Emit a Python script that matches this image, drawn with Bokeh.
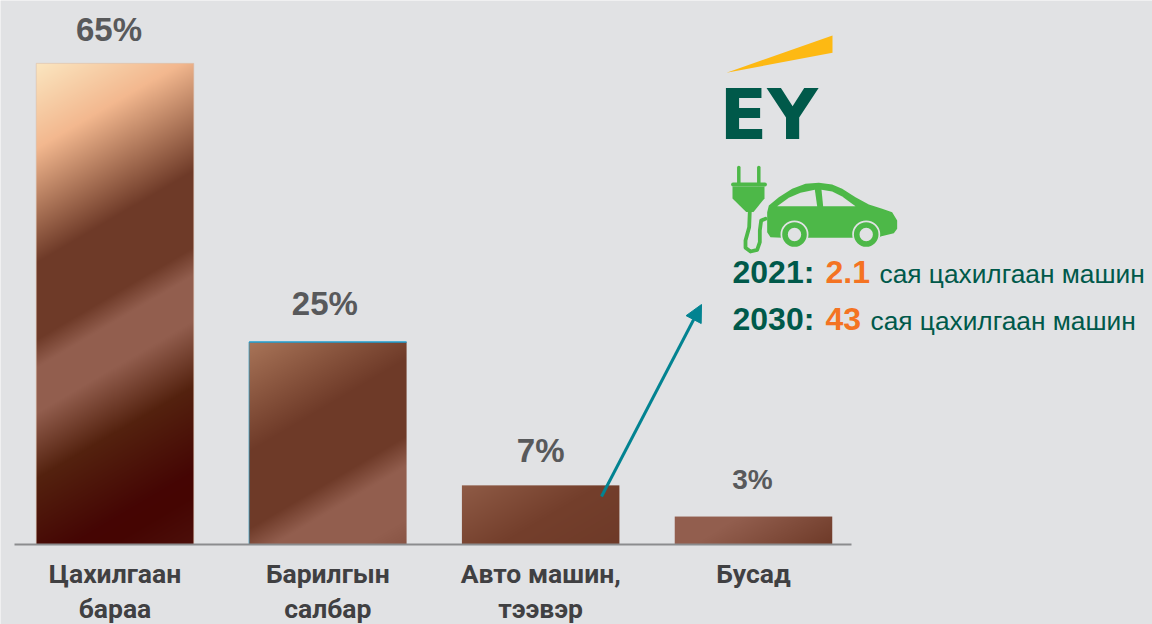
from bokeh.plotting import figure
from bokeh.embed import file_html
from bokeh.resources import INLINE
from bokeh.core.properties import value
from bokeh.models import Range1d, FixedTicker, Arrow, NormalHead
import numpy as np

# Data
categories = ["Цахилгаан\nбараа", "Барилгын\nсалбар", "Авто машин,\nтээвэр", "Бусад"]
shares_label = ["65%", "25%", "7%", "3%"]
# drawn bar heights (the first bar is drawn shorter than its label implies)
bar_heights = [59.4, 25.0, 7.3, 3.45]
bar_positions = [0, 1, 2, 3]
label_sizes = [33, 33, 33, 28]
label_offsets = [-6, -3, 0, -1]
label_lifts = [2.7, 3.2, 2.84, 3.3]

W, H = 1152, 624
BG = "#e1e2e4"
BASE = 544
PXU = 8.1
STEP = 212.83
X0 = 114.5
BL = 0.37  # em shift that puts the "alphabetic" anchor on the wanted baseline

def dx(px): return (px - X0) / STEP
def dy(py): return (BASE - py) / PXU
def pts(seq):
    return [dx(a) for a, b in seq], [dy(b) for a, b in seq]
def z7(seq):
    return [(725 + a / 3, 160 + b / 3) for a, b in seq]

p = figure(width=W, height=H, output_backend="svg", toolbar_location=None,
           x_range=Range1d(dx(0), dx(W)), y_range=Range1d(dy(H), dy(0)),
           min_border_left=0, min_border_right=0, min_border_top=0, min_border_bottom=0,
           background_fill_color=BG, border_fill_color=BG, outline_line_color=None)
p.grid.visible = False
p.yaxis.visible = False

ax = p.xaxis[0]
ax.fixed_location = 0
ax.ticker = FixedTicker(ticks=bar_positions)
ax.major_label_overrides = dict(zip(bar_positions, categories))
ax.bounds = (dx(14), dx(851))
ax.axis_line_color = "#8b8c8e"
ax.axis_line_width = 2
ax.major_tick_line_color = None
ax.minor_tick_line_color = None
ax.major_label_standoff = 7
ax.major_label_text_font = "Roboto"
ax.major_label_text_font_style = "bold"
ax.major_label_text_font_size = "26.5px"
ax.major_label_text_line_height = 1.15
ax.major_label_text_color = "#404042"

# copper gradients: distance along the diagonal (px), colour
ramps = [
    [(0, "#fbe6c0"), (85, "#f3b88f"), (200, "#6e3a28"), (275, "#6e3a28"), (303, "#925e4e"), (350, "#925e4e"),
     (415, "#54220f"), (500, "#450604"), (521, "#450502"), (574, "#4d100b")],
    [(0, "#a87458"), (110, "#6e3a28"), (185, "#6e3a28"), (215, "#925e4e"), (270, "#925e4e"), (296, "#885444")],
    [(0, "#8f5b46"), (80, "#743f2c"), (152, "#6e3a28")],
    [(0, "#925e4e"), (40, "#925e4e"), (121, "#6e3a28")],
]
SLOPE = 0.59

def grad(h_px, w_px, ramp):
    hh, ww = max(int(round(h_px)), 1), int(round(w_px))
    yy, xx = np.mgrid[0:hh, 0:ww]
    s = (hh - 1 - yy) + SLOPE * xx
    pos = [r[0] for r in ramp]
    cols = [tuple(int(r[1][i:i + 2], 16) for i in (1, 3, 5)) for r in ramp]
    out = np.zeros((hh, ww), dtype=np.uint32)
    view = out.view(dtype=np.uint8).reshape((hh, ww, 4))
    for c in range(3):
        view[..., c] = np.interp(s, pos, [k[c] for k in cols]).astype(np.uint8)
    view[..., 3] = 255
    return out

bw = 157.5 / STEP
for i, h in enumerate(bar_heights):
    img = grad(h * PXU, 157.5, ramps[i])
    p.image_rgba(image=[img], x=bar_positions[i] - bw / 2, y=0, dw=bw, dh=h)

# pale edge of the first bar, blue edge of the second bar
p.quad(left=[-bw / 2], right=[bw / 2], bottom=[0], top=[bar_heights[0]], fill_color=None,
       line_color="#dcb9a4", line_width=1, line_alpha=0.5)
p.line([1 - bw / 2, 1 - bw / 2], [0, bar_heights[1]], line_color="#2a8fb5", line_width=0.8)
p.line([1 - bw / 2, 1 + bw / 2], [bar_heights[1], bar_heights[1]], line_color="#1e9ed0", line_width=1.4)

# value labels
for i in range(4):
    p.text([bar_positions[i]], [bar_heights[i] + label_lifts[i]], text=[shares_label[i]],
           x_offset=label_offsets[i], y_offset=-BL * label_sizes[i], text_align="center", text_baseline="alphabetic",
           text_font=value("Liberation Sans"), text_font_style="bold",
           text_font_size=f"{label_sizes[i]}px", text_color="#58595b")

# arrow
p.add_layout(Arrow(end=NormalHead(size=17, fill_color="#028391", line_color="#028391", line_width=1),
                   x_start=dx(601), y_start=dy(496), x_end=dx(701), y_end=dy(304),
                   line_color="#028391", line_width=3))

# EY logo
xs, ys = pts([(726, 72.3), (832, 35), (832, 52.3)])
p.patch(xs, ys, fill_color="#fdb913", line_color=None)
p.text([dx(719)], [dy(140)], text=["EY"], text_font=value("DejaVu Sans"), text_font_style="bold",
       y_offset=-BL * 70, text_font_size="70px", text_color="#00594a", text_baseline="alphabetic")

# plug
G = "#4db848"
for px_x in (738.3, 758.3):
    xs, ys = pts([(px_x, 167), (px_x, 184)])
    p.line(xs, ys, line_color=G, line_width=3.5, line_cap="round")
xs, ys = pts([(732.5, 184), (764.5, 184)])
p.line(xs, ys, line_color=G, line_width=3.8, line_cap="round")
xs, ys = pts([(732, 186), (764, 186), (764, 198), (753, 211.5), (745.7, 211.5), (732, 198)])
p.patch(xs, ys, fill_color=G, line_color=None)
xs, ys = pts(z7([(73, 150), (71, 200), (60, 240), (60, 262), (75, 273), (95, 268), (103, 245), (103, 210), (107, 180), (120, 175)]))
p.line(xs, ys, line_color=G, line_width=3.8, line_join="round", line_cap="round")

# car
xs, ys = pts(z7([(125, 155), (130, 135), (160, 110), (200, 85), (240, 70), (280, 67), (320, 72), (350, 85),
                 (390, 110), (430, 132), (470, 145), (500, 155), (515, 180), (515, 205), (505, 218), (465, 228),
                 (462, 232), (170, 232), (135, 230), (125, 215)]))
p.patch(xs, ys, fill_color=G, line_color=None)
for poly in ([(155, 137), (190, 112), (225, 97), (268, 88), (275, 137)],
             [(288, 88), (320, 93), (350, 108), (390, 137), (293, 137)]):
    xs, ys = pts(z7(poly))
    p.patch(xs, ys, fill_color=BG, line_color=None)
wx, wy = [dx(794), dx(865.7)], [dy(234), dy(234)]
p.circle(wx, wy, radius=14, radius_units="screen", fill_color=BG, line_color=None)
p.circle(wx, wy, radius=9.5, radius_units="screen", fill_color=BG, line_color=G, line_width=5.6)

# right-hand captions
DG, OR = "#00594a", "#f47322"
cap = [("2021:", 732, 283, 32, True, DG), ("2.1", 825, 283, 32, True, OR),
       ("сая цахилгаан машин", 879, 283, 26.3, False, DG),
       ("2030:", 732, 330, 32, True, DG), ("43", 825, 330, 32, True, OR),
       ("сая цахилгаан машин", 870, 330, 26.3, False, DG)]
for t, x, y, s, b, c in cap:
    p.text([dx(x)], [dy(y)], text=[t], y_offset=-BL * s, text_font=value("Liberation Sans"),
           text_font_style="bold" if b else "normal",
           text_font_size=f"{s}px", text_color=c, text_baseline="alphabetic")

open("out.html", "w").write(file_html(p, INLINE))
